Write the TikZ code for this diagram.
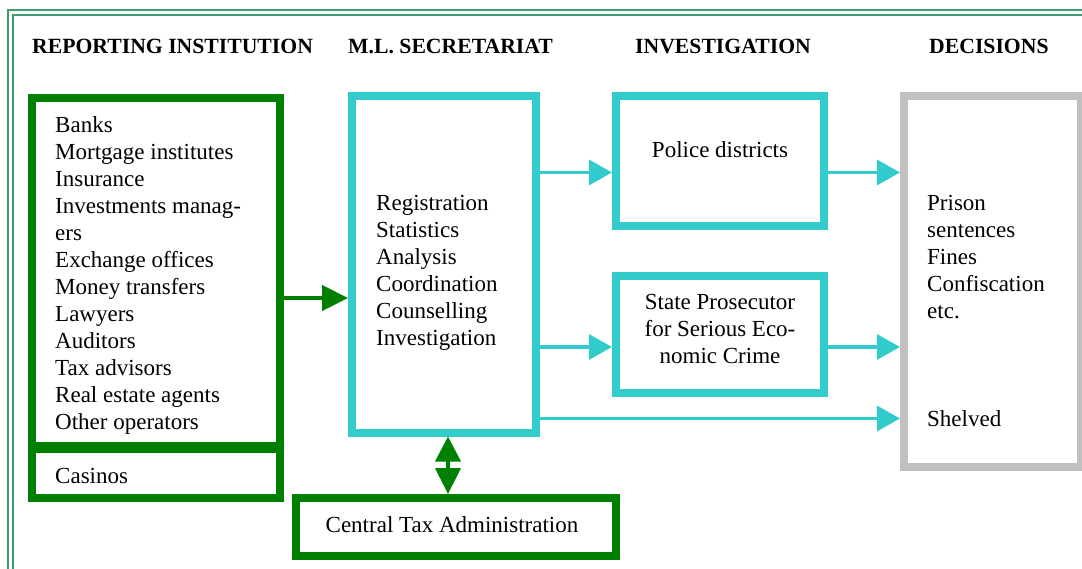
\documentclass[tikz,border=0pt]{standalone}
\usepackage{fontspec}
\setmainfont{Liberation Serif}
\usetikzlibrary{arrows.meta}
\definecolor{boxgreen}{HTML}{008000}
\definecolor{boxcyan}{HTML}{33CCCC}
\definecolor{boxgray}{HTML}{C0C0C0}
\definecolor{framegreen}{RGB}{60,158,110}
% a column of lines whose baseline is the first line's baseline
\newcommand\linestack[2][l]{\begin{tabular}[t]{@{}#1@{}}#2\end{tabular}}
\begin{document}
\begin{tikzpicture}[x=1pt,y=-1pt,
  box/.style={draw,rectangle,line width=8pt,inner sep=0pt},
  gbox/.style={box,draw=boxgreen},
  cbox/.style={box,draw=boxcyan},
  graybox/.style={box,draw=boxgray},
  body/.style={inner sep=0pt,font=\fontsize{23}{27}\selectfont},
  head/.style={inner sep=0pt,anchor=base west,font=\fontsize{21.7}{25}\selectfont\bfseries},
  cyanarrow/.style={draw=boxcyan,line width=3.5pt,-{Triangle[length=23pt,width=25pt]}},
  greenarrow/.style={draw=boxgreen,line width=4.5pt,-{Triangle[length=26pt,width=25pt]}},
  twoway/.style={draw=boxgreen,line width=4pt,{Triangle[length=25pt,width=25pt]}-{Triangle[length=26pt,width=25pt]}},
  frameline/.style={draw=framegreen,line width=2pt}
]
\useasboundingbox (0,0) rectangle (1082,568);
\clip (0,0) rectangle (1082,568);

% page frame (double rule)
\draw[frameline] (8,10) rectangle (1200,700);
\draw[frameline] (13,15) rectangle (1200,700);

% column headings
\node[head] (h1) at (32,53) {REPORTING INSTITUTION};
\node[head] (h2) at (348,53) {M.L. SECRETARIAT};
\node[head] (h3) at (635,53) {INVESTIGATION};
\node[head] (h4) at (929,53) {DECISIONS};

% boxes
\node[gbox,minimum width=247.5pt,minimum height=348pt] (rep) at (155.75,272) {};
\node[gbox,minimum width=247.5pt,minimum height=48.5pt] (cas) at (155.75,473.25) {};
\node[cbox,minimum width=184pt,minimum height=336.5pt] (sec) at (444,264.25) {};
\node[cbox,minimum width=208pt,minimum height=130pt] (pol) at (720,161) {};
\node[cbox,minimum width=208pt,minimum height=116.5pt] (pro) at (720,334.25) {};
\node[graybox,minimum width=177pt,minimum height=370.5pt] (dec) at (992.5,281.25) {};
\node[gbox,minimum width=320pt,minimum height=57.5pt] (tax) at (456,526.75) {};

% box texts
\node[body,anchor=base west] (reptext) at (55,132) {\linestack{Banks\\Mortgage institutes\\Insurance\\Investments manag-\\ers\\Exchange offices\\Money transfers\\Lawyers\\Auditors\\Tax advisors\\Real estate agents\\Other operators}};
\node[body,anchor=base west] (castext) at (55,483) {Casinos};
\node[body,anchor=base west] (sectext) at (376,210) {\linestack{Registration\\Statistics\\Analysis\\Coordination\\Counselling\\Investigation}};
\node[body,anchor=base] (poltext) at (720,157) {Police districts};
\node[body,anchor=base] (protext) at (720,309) {\linestack[c]{State Prosecutor\\for Serious Eco-\\nomic Crime}};
\node[body,anchor=base west] (dectext) at (927,210) {\linestack{Prison\\sentences\\Fines\\Confiscation\\etc.}};
\node[body,anchor=base west] (shelved) at (927,426) {Shelved};
\node[body,anchor=base] (taxtext) at (452,532) {Central Tax Administration};

% levels of the connectors
\coordinate (lvlpol) at (0,172.5);
\coordinate (lvlpro) at (0,347);
\coordinate (lvlshelf) at (0,418.5);
\coordinate (lvlrep) at (0,298);
\coordinate (colx) at (448,0);

% connectors
\draw[greenarrow] (rep.east |- lvlrep) -- (sec.west |- lvlrep);
\draw[cyanarrow] (sec.east |- lvlpol) -- (pol.west |- lvlpol);
\draw[cyanarrow] (pol.east |- lvlpol) -- (dec.west |- lvlpol);
\draw[cyanarrow] (sec.east |- lvlpro) -- (pro.west |- lvlpro);
\draw[cyanarrow] (pro.east |- lvlpro) -- (dec.west |- lvlpro);
\draw[cyanarrow] (sec.east |- lvlshelf) -- (dec.west |- lvlshelf);
\draw[twoway] (colx |- sec.south) -- (colx |- tax.north);
\end{tikzpicture}
\end{document}
